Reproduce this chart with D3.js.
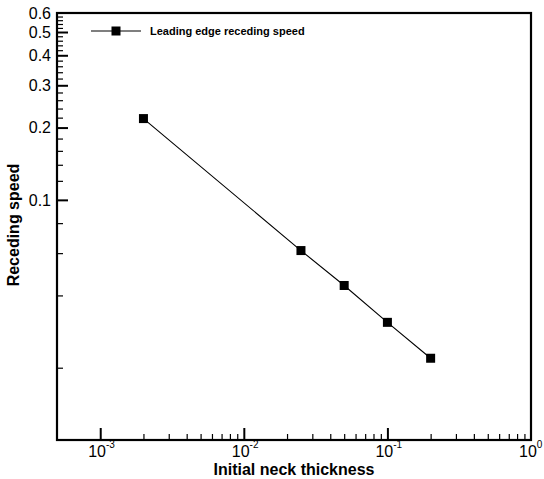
<!DOCTYPE html>
<html>
<head>
<meta charset="utf-8">
<script src="https://cdn.jsdelivr.net/npm/d3@7"></script>
<style>
  html, body { margin: 0; padding: 0; background: #fff; }
  svg { display: block; font-family: "Liberation Sans", Arial, Helvetica, sans-serif; }
</style>
</head>
<body>
<svg id="chart" width="544" height="479"></svg>
<script>
// ---- data ----
const thickness = [0.002, 0.025, 0.05, 0.1, 0.2];
const recedingSpeed = [0.218, 0.0615, 0.044, 0.0309, 0.0219];
const seriesName = "Leading edge receding speed";
const xMajorTicks = [0.001, 0.01, 0.1, 1];
const xMajorExponents = ["-3", "-2", "-1", "0"];
const yMajorTicks = [0.1, 0.2, 0.3, 0.4, 0.5, 0.6];
const yMajorLabels = ["0.1", "0.2", "0.3", "0.4", "0.5", "0.6"];
const xTitle = "Initial neck thickness";
const yTitle = "Receding speed";

// ---- layout ----
const svg = d3.select("#chart");
const L = 57, R = 531, T = 13, B = 440;
const x = d3.scaleLog().domain([5e-4, 1]).range([L, R]);
const y = d3.scaleLog().domain([0.01, 0.6]).range([B, T]);

// minor ticks
const xMinor = [];
[0.001, 0.01, 0.1].forEach(d => { for (let k = 2; k <= 9; k++) xMinor.push(+(d * k).toPrecision(3)); });
const yMinor = [];
for (let v = 0.02; v < 0.1; v += 0.02) yMinor.push(+v.toFixed(2));
for (let v = 0.12; v < 0.6; v += 0.02) {
  const r = +v.toFixed(2);
  if (!yMajorTicks.includes(r)) yMinor.push(r);
}

const axisColor = "#000";
const g = svg.append("g");

// minor ticks x
g.append("g").attr("transform", `translate(0,${B})`)
  .call(d3.axisBottom(x).tickValues(xMinor).tickSize(-6).tickFormat(""))
  .call(s => s.select(".domain").remove())
  .call(s => s.selectAll("line").attr("stroke", axisColor).attr("stroke-width", 1.2));
// major ticks x
g.append("g").attr("transform", `translate(0,${B})`)
  .call(d3.axisBottom(x).tickValues(xMajorTicks.slice(0, 3)).tickSize(-12).tickFormat(""))
  .call(s => s.select(".domain").remove())
  .call(s => s.selectAll("line").attr("stroke", axisColor).attr("stroke-width", 2));

// minor ticks y
g.append("g").attr("transform", `translate(${L},0)`)
  .call(d3.axisLeft(y).tickValues(yMinor).tickSize(-6).tickFormat(""))
  .call(s => s.select(".domain").remove())
  .call(s => s.selectAll("line").attr("stroke", axisColor).attr("stroke-width", 1.2));
// major ticks y
g.append("g").attr("transform", `translate(${L},0)`)
  .call(d3.axisLeft(y).tickValues(yMajorTicks.slice(0, 5)).tickSize(-11).tickFormat(""))
  .call(s => s.select(".domain").remove())
  .call(s => s.selectAll("line").attr("stroke", axisColor).attr("stroke-width", 2));

// frame
svg.append("rect").attr("x", L).attr("y", T).attr("width", R - L).attr("height", B - T)
  .attr("fill", "none").attr("stroke", axisColor).attr("stroke-width", 2.2);

// y tick labels
svg.append("g").selectAll("text").data(yMajorTicks).join("text")
  .attr("x", L - 6).attr("y", d => y(d)).attr("dy", "0.36em")
  .attr("text-anchor", "end").attr("font-size", 16).attr("fill", "#000")
  .text((d, i) => yMajorLabels[i]);

// x tick labels
const xl = svg.append("g").selectAll("text").data(xMajorTicks).join("text")
  .attr("x", d => x(d) - 12).attr("y", 457)
  .attr("font-size", 16).attr("fill", "#000");
xl.append("tspan").text("10");
xl.append("tspan").attr("font-size", 10).attr("dy", -9).text((d, i) => xMajorExponents[i]);

// axis titles
svg.append("text").attr("x", (L + R) / 2 + 0).attr("y", 475)
  .attr("text-anchor", "middle").attr("font-size", 16).attr("font-weight", "bold")
  .text(xTitle);
svg.append("text").attr("transform", `translate(19,225) rotate(-90)`)
  .attr("text-anchor", "middle").attr("font-size", 16).attr("font-weight", "bold")
  .text(yTitle);

// data line
const pts = thickness.map((t, i) => [t, recedingSpeed[i]]);
svg.append("path").datum(pts)
  .attr("d", d3.line().x(d => x(d[0])).y(d => y(d[1])))
  .attr("fill", "none").attr("stroke", "#000").attr("stroke-width", 1.1);
const ms = 9;
svg.append("g").selectAll("rect").data(pts).join("rect")
  .attr("x", d => x(d[0]) - ms / 2).attr("y", d => y(d[1]) - ms / 2)
  .attr("width", ms).attr("height", ms).attr("fill", "#000");

// legend
const lg = svg.append("g");
lg.append("line").attr("x1", 91).attr("x2", 141).attr("y1", 31).attr("y2", 31)
  .attr("stroke", "#000").attr("stroke-width", 1.1);
lg.append("rect").attr("x", 116 - ms / 2).attr("y", 31 - ms / 2).attr("width", ms).attr("height", ms).attr("fill", "#000");
lg.append("text").attr("x", 150).attr("y", 35).attr("font-size", 11).attr("font-weight", "bold")
  .text(seriesName);
</script>
</body>
</html>
